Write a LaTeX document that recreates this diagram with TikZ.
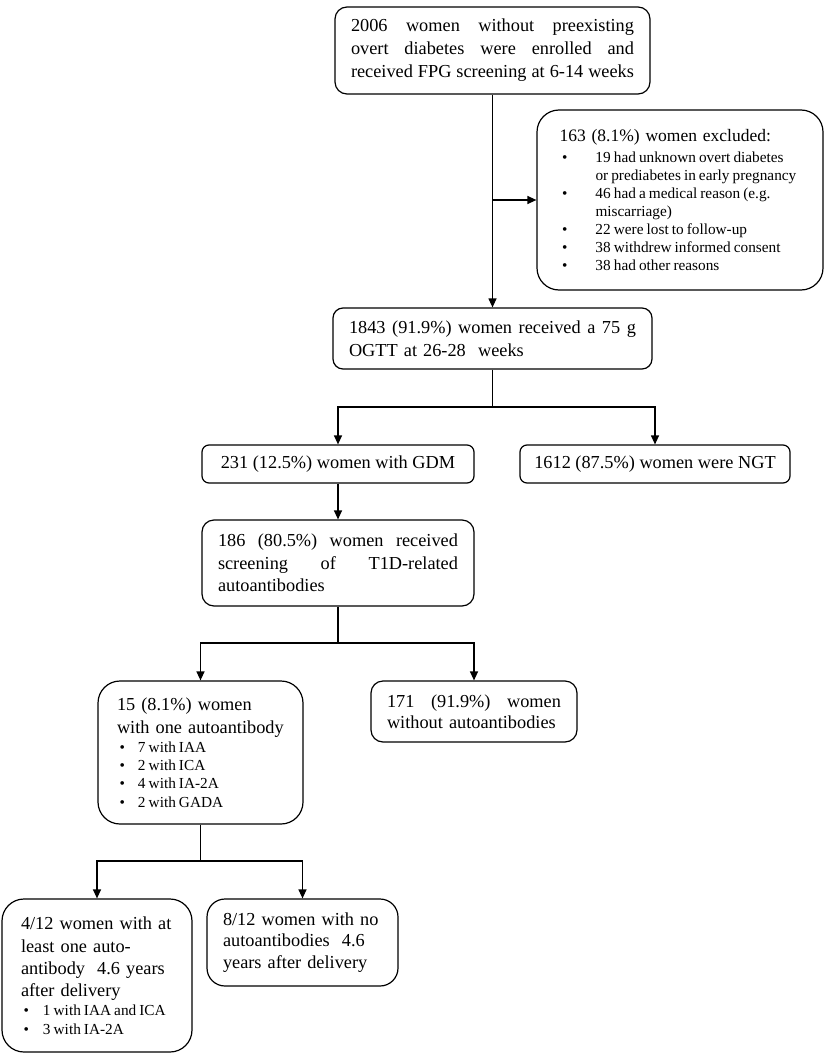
\documentclass[tikz,border=0pt]{standalone}
\usepackage{fontspec}
\setmainfont{Liberation Serif}
\usetikzlibrary{arrows.meta,calc}
\newcommand{\fl}[2]{{\spaceskip=0pt\xspaceskip=0pt\makebox[#1][s]{#2}}}
\newcommand{\bl}[2]{\mbox{\makebox[#1][l]{\hspace{2.5pt}\textbullet}#2}}
\newcommand{\smallb}{\fontsize{15.3}{18}\selectfont\spaceskip=0.2em plus 0.1em\relax}
\begin{document}
\begin{tikzpicture}[x=1pt,y=-1pt,
 box/.style={draw, line width=1.2pt, inner sep=0pt, align=left, font=\fontsize{18.3}{22.5}\selectfont},
 arr/.style={line width=1.2pt, -{Triangle[width=8pt,length=9pt]}},
 ln/.style={line width=1.2pt}]
\useasboundingbox[fill=white] (0,0) rectangle (827,1057);

\node[box, rounded corners=12pt, minimum width=315pt, minimum height=87pt, text width=283pt, font=\fontsize{18.3}{23}\selectfont] (n1) at (492.5,50.5)
 {\fl{283pt}{2006 women without preexisting}\\ \fl{283pt}{overt diabetes were enrolled and}\\ \fl{283pt}{received FPG screening at 6-14 weeks}};

\node[box, rounded corners=22pt, minimum width=286pt, minimum height=180pt, text width=241pt, font=\fontsize{17.5}{18}\selectfont] (excl) at (680,200)
 {163 (8.1\%) women excluded:\\[3pt]
 \smallb
 \bl{36pt}{19 had unknown overt diabetes}\\
 \mbox{\hspace*{36pt}or prediabetes in early pregnancy}\\
 \bl{36pt}{46 had a medical reason (e.g.}\\
 \mbox{\hspace*{36pt}miscarriage)}\\
 \bl{36pt}{22 were lost to follow-up}\\
 \bl{36pt}{38 withdrew informed consent}\\
 \bl{36pt}{38 had other reasons}};

\node[box, rounded corners=10pt, minimum width=319pt, minimum height=61pt, text width=287pt] (n2) at (492.5,338.5)
 {\fl{287pt}{1843 (91.9\%) women received a 75 g}\\ OGTT at 26-28 \ weeks};

\node[box, rounded corners=7pt, minimum width=272pt, minimum height=38pt, align=center] (gdm) at (338,464)
 {231 (12.5\%) women with GDM};
\node[box, rounded corners=7pt, minimum width=270pt, minimum height=38pt, align=center] (ngt) at (655,464)
 {1612 (87.5\%) women were NGT};

\node[box, rounded corners=12pt, minimum width=272pt, minimum height=86pt, text width=240pt] (scr) at (338,563)
 {\fl{240pt}{186 (80.5\%) women received}\\ \fl{240pt}{screening of T1D-related}\\ autoantibodies};

\node[box, rounded corners=22pt, minimum width=205pt, minimum height=143pt, text width=167pt, font=\fontsize{18.3}{18.5}\selectfont] (one) at (200.5,752.5)
 {15 (8.1\%) women\\[4.5pt] with one autoantibody\\[1.5pt]
 \smallb\bl{21pt}{7 with IAA}\\ \bl{21pt}{2 with ICA}\\ \bl{21pt}{4 with IA-2A}\\ \bl{21pt}{2 with GADA}};

\node[box, rounded corners=12pt, minimum width=206pt, minimum height=61pt, text width=174pt, font=\fontsize{18.3}{21}\selectfont] (none) at (474,711.5)
 {\fl{174pt}{171 (91.9\%) women}\\ without autoantibodies};

\node[box, rounded corners=22pt, minimum width=190pt, minimum height=153pt, text width=152pt, font=\fontsize{18.3}{19}\selectfont] (pos) at (97,975.5)
 {4/12 women with at\\[4pt] least one auto-\\[3pt] antibody \ 4.6 years\\[3pt] after delivery\\[1pt]
 \smallb\bl{22pt}{1 with IAA and ICA}\\ \bl{22pt}{3 with IA-2A}};

\node[box, rounded corners=18pt, minimum width=191pt, minimum height=87pt, text width=159pt, font=\fontsize{18.3}{21.5}\selectfont] (neg) at (302.5,942.5)
 {8/12 women with no\\ autoantibodies \ 4.6\\ years after delivery};

% connectors
\draw[arr] (n1.south) -- (n2.north);
\coordinate (j1) at (n1.south |- excl.west);
\draw[arr] (j1) -- (excl.west);

\coordinate (b1) at (492.5,407);
\draw[ln] (n2.south) -- (b1);
\draw[arr] (b1) -| (gdm.north);
\draw[arr] (b1) -| (ngt.north);

\draw[arr] (gdm.south) -- (scr.north);

\coordinate (b2) at (338,643);
\draw[ln] (scr.south) -- (b2);
\draw[arr] (b2) -| (one.north);
\draw[arr] (b2) -| (none.north);

\coordinate (b3) at (200.5,861);
\draw[ln] (one.south) -- (b3);
\draw[arr] (b3) -| (pos.north);
\draw[arr] (b3) -| (neg.north);
\end{tikzpicture}
\end{document}
